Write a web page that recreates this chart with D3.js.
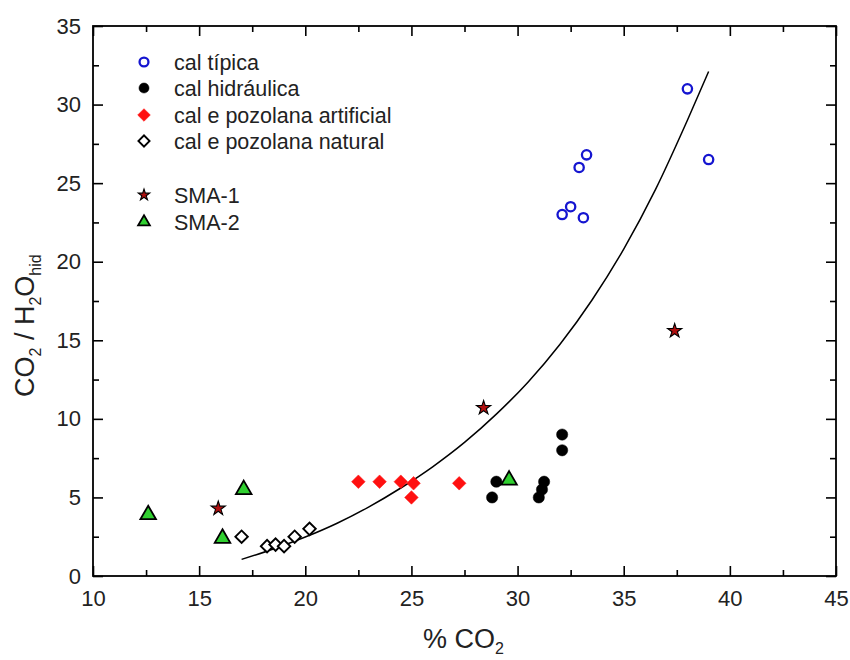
<!DOCTYPE html>
<html>
<head>
<meta charset="utf-8">
<script src="https://cdn.jsdelivr.net/npm/d3@7"></script>
<style>
  html, body { margin: 0; padding: 0; background: #fff; }
  svg { display: block; font-family: "Liberation Sans", Arial, sans-serif; }
</style>
</head>
<body>
<svg id="chart" width="850" height="660"></svg>
<script>
// ---- data ----
const xTicks = [10, 15, 20, 25, 30, 35, 40, 45];
const yTicks = [0, 5, 10, 15, 20, 25, 30, 35];

const calTipicaX = [32.1, 32.5, 33.1, 32.9, 33.25, 38.0, 39.0];
const calTipicaY = [23.0, 23.5, 22.8, 26.0, 26.8, 31.0, 26.5];

const calHidX = [28.8, 29.0, 31.0, 31.15, 31.25, 32.1, 32.1];
const calHidY = [5.0, 6.0, 5.0, 5.5, 6.0, 8.0, 9.0];

const pozArtX = [22.5, 23.5, 24.5, 25.1, 25.0, 27.25];
const pozArtY = [6.0, 6.0, 6.0, 5.9, 5.0, 5.9];

const pozNatX = [17.0, 18.2, 18.6, 19.0, 19.5, 20.2];
const pozNatY = [2.5, 1.9, 2.0, 1.9, 2.5, 3.0];

const sma1X = [15.9, 28.4, 37.4];
const sma1Y = [4.3, 10.7, 15.6];

const sma2X = [12.6, 16.1, 17.1, 29.6];
const sma2Y = [3.9, 2.4, 5.5, 6.1];

const fitX = [17.0, 18.5, 20.0, 21.5, 23.0, 24.5, 26.0, 27.5, 29.0, 30.5, 32.0, 33.5, 35.0, 36.5, 38.0, 39.0];
const fitY = [1.06, 1.72, 2.48, 3.36, 4.4, 5.6, 6.95, 8.5, 10.3, 12.35, 14.75, 17.55, 20.8, 24.6, 29.0, 32.1];

const legendLabels = ["cal típica", "cal hidráulica", "cal e pozolana artificial", "cal e pozolana natural", "SMA-1", "SMA-2"];

// ---- layout ----
const svg = d3.select("#chart");
const L = 93, R = 836, T = 26, B = 576;
const x = d3.scaleLinear().domain([10, 45]).range([L, R]);
const y = d3.scaleLinear().domain([0, 35]).range([B, T]);

const zip = (a, b) => a.map((v, i) => [v, b[i]]);

// styles per series
const styles = [
  { sym: d3.symbolCircle, size: 68, legSize: 62, fill: "#fff", stroke: "#1515d0", sw: 2.3, rot: 0 },
  { sym: d3.symbolCircle, size: 100, legSize: 80, fill: "#000", stroke: "#000", sw: 0.5, rot: 0 },
  { sym: d3.symbolSquare, size: 92, legSize: 80, fill: "#ff1010", stroke: "#ff1010", sw: 0.5, rot: 45 },
  { sym: d3.symbolSquare, size: 78, legSize: 62, fill: "#fff", stroke: "#000", sw: 1.9, rot: 45 },
  { sym: d3.symbolStar, size: 62, legSize: 40, fill: "#b01010", stroke: "#000", sw: 1.1, rot: 0 },
  { sym: d3.symbolTriangle, size: 105, legSize: 60, fill: "#30d030", stroke: "#000", sw: 1.8, rot: 0 }
];
const series = [
  zip(calTipicaX, calTipicaY),
  zip(calHidX, calHidY),
  zip(pozArtX, pozArtY),
  zip(pozNatX, pozNatY),
  zip(sma1X, sma1Y),
  zip(sma2X, sma2Y)
];

// ---- axes frame & ticks ----
const g = svg.append("g");
const majorLen = 10, minorLen = 6;
const xMinor = d3.range(12.5, 45, 5);
const yMinor = d3.range(2.5, 35, 5);

g.append("g").attr("transform", `translate(0,${B})`)
  .call(d3.axisBottom(x).tickValues(xTicks).tickSize(-majorLen).tickPadding(14).tickFormat(d3.format("d")))
  .call(s => s.select(".domain").remove());
g.append("g").attr("transform", `translate(0,${B})`)
  .call(d3.axisBottom(x).tickValues(xMinor).tickSize(-minorLen).tickFormat(""))
  .call(s => s.select(".domain").remove());
g.append("g").attr("transform", `translate(0,${T})`)
  .call(d3.axisTop(x).tickValues(xTicks).tickSize(-majorLen).tickFormat(""))
  .call(s => s.select(".domain").remove());
g.append("g").attr("transform", `translate(0,${T})`)
  .call(d3.axisTop(x).tickValues(xMinor).tickSize(-minorLen).tickFormat(""))
  .call(s => s.select(".domain").remove());
g.append("g").attr("transform", `translate(${L},0)`)
  .call(d3.axisLeft(y).tickValues(yTicks).tickSize(-majorLen).tickPadding(12).tickFormat(d3.format("d")))
  .call(s => s.select(".domain").remove());
g.append("g").attr("transform", `translate(${L},0)`)
  .call(d3.axisLeft(y).tickValues(yMinor).tickSize(-minorLen).tickFormat(""))
  .call(s => s.select(".domain").remove());
g.append("g").attr("transform", `translate(${R},0)`)
  .call(d3.axisRight(y).tickValues(yTicks).tickSize(-majorLen).tickFormat(""))
  .call(s => s.select(".domain").remove());
g.append("g").attr("transform", `translate(${R},0)`)
  .call(d3.axisRight(y).tickValues(yMinor).tickSize(-minorLen).tickFormat(""))
  .call(s => s.select(".domain").remove());

g.selectAll(".tick line").attr("stroke", "#000").attr("stroke-width", 1.6);
g.selectAll(".tick text").attr("font-size", 22).attr("fill", "#222")
  .attr("font-family", "Liberation Sans, Arial, sans-serif");

g.append("rect").attr("x", L).attr("y", T).attr("width", R - L).attr("height", B - T)
  .attr("fill", "none").attr("stroke", "#000").attr("stroke-width", 1.8);

// ---- fit curve ----
const line = d3.line().x(d => x(d[0])).y(d => y(d[1])).curve(d3.curveMonotoneX);
svg.append("path").datum(zip(fitX, fitY)).attr("d", line)
  .attr("fill", "none").attr("stroke", "#000").attr("stroke-width", 1.5);

// ---- points ----
series.forEach((pts, i) => {
  const st = styles[i];
  svg.append("g").selectAll("path").data(pts).join("path")
    .attr("transform", d => `translate(${x(d[0])},${y(d[1])}) rotate(${st.rot})`)
    .attr("d", d3.symbol().type(st.sym).size(st.size)())
    .attr("fill", st.fill).attr("stroke", st.stroke).attr("stroke-width", st.sw);
});

// ---- legend ----
const legY = [62, 88, 115, 141, 195, 222];
const leg = svg.append("g");
legendLabels.forEach((lab, i) => {
  const st = styles[i];
  leg.append("path")
    .attr("transform", `translate(144,${legY[i]}) rotate(${st.rot})`)
    .attr("d", d3.symbol().type(st.sym).size(st.legSize)())
    .attr("fill", st.fill).attr("stroke", st.stroke).attr("stroke-width", st.sw);
  leg.append("text").attr("x", 174).attr("y", legY[i] + 8)
    .attr("font-size", 21.5).attr("fill", "#222").text(lab);
});

// ---- axis titles ----
const xt = svg.append("text").attr("x", 423).attr("y", 648).attr("font-size", 27).attr("fill", "#222");
xt.append("tspan").text("% CO");
xt.append("tspan").attr("font-size", 16).attr("dy", 6).text("2");

const yt = svg.append("text").attr("transform", "translate(34,397) rotate(-90)")
  .attr("font-size", 27).attr("fill", "#222");
yt.append("tspan").text("CO");
yt.append("tspan").attr("font-size", 16).attr("dy", 7).text("2");
yt.append("tspan").attr("dy", -7).text(" / H");
yt.append("tspan").attr("font-size", 16).attr("dy", 7).text("2");
yt.append("tspan").attr("dy", -7).text("O");
yt.append("tspan").attr("font-size", 16).attr("dy", 7).text("hid");
</script>
</body>
</html>
